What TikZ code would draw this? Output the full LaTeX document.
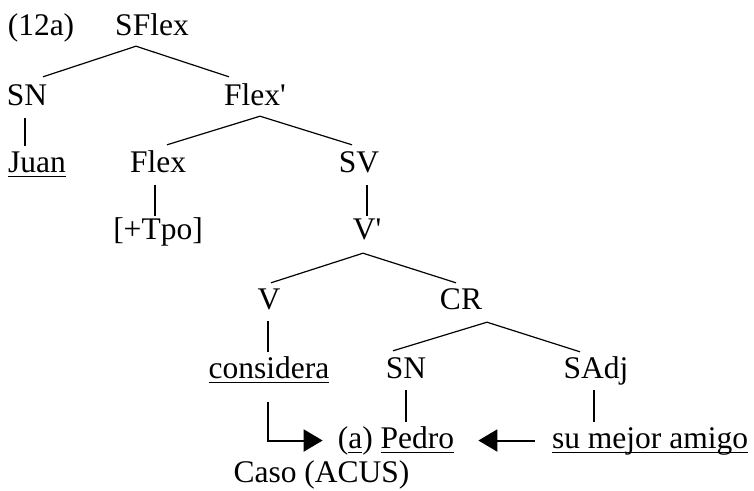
\documentclass[tikz,border=0pt]{standalone}
\usepackage{fontspec}
\setmainfont{Liberation Serif}
\usetikzlibrary{arrows.meta}
\newcommand{\ulword}[1]{\setbox0\hbox{#1}\rlap{\rule[-5pt]{\wd0}{1.5pt}}\box0}

\begin{document}
\begin{tikzpicture}[x=1pt, y=-1pt,
  lbl/.style={inner sep=0pt, anchor=base, text height=22pt, text depth=7pt,
    font=\fontsize{31.5}{36}\selectfont},
  branch/.style={line width=1.2pt},
  stem/.style={line width=2pt},
  link/.style={line width=2pt, -{Triangle[length=19pt,width=22pt]}}]
  \useasboundingbox (0,0) rectangle (754,490);

  % Top
  \node[lbl] (ex) at (41,35) {(12a)};
  \node[lbl] (sflex) at (152,35) {SFlex};

  % Level 1
  \node[lbl] (sn1) at (27,105) {SN};
  \node[lbl] (flexbar) at (255,105) {Flex\textquotesingle};
  \draw[branch] ([shift={(-16,4)}]sflex.south) -- ([shift={(16,-6)}]sn1.north);
  \draw[branch] ([shift={(-16,4)}]sflex.south) -- ([shift={(-26,-6)}]flexbar.north);

  % Level 2
  \node[lbl] (juan) at (37,172) {\ulword{Juan}};
  \node[lbl] (flex) at (158,172) {Flex};
  \node[lbl] (sv) at (359,172) {SV};
  \draw[stem] ([shift={(-2,6)}]sn1.south) -- ([shift={(-12,-4)}]juan.north);
  \draw[branch] ([shift={(5,4)}]flexbar.south) -- ([shift={(9,-5)}]flex.north);
  \draw[branch] ([shift={(5,4)}]flexbar.south) -- ([shift={(-7,-5)}]sv.north);

  % Level 3
  \node[lbl] (tpo) at (158,239) {[+Tpo]};
  \node[lbl] (vbar) at (367,239) {V\textquotesingle};
  \draw[stem] ([shift={(-3,6)}]flex.south) -- ([shift={(-3,-1)}]tpo.north);
  \draw[stem] ([shift={(8,6)}]sv.south) -- ([shift={(0,-1)}]vbar.north);

  % Level 4
  \node[lbl] (v) at (269,309) {V};
  \node[lbl] (cr) at (461,309) {CR};
  \draw[branch] ([shift={(-4,7)}]vbar.south) -- ([shift={(2,-4)}]v.north);
  \draw[branch] ([shift={(-4,7)}]vbar.south) -- ([shift={(-5,-4)}]cr.north);

  % Level 5
  \node[lbl] (considera) at (269,378) {\ulword{considera}};
  \node[lbl] (sn2) at (406,378) {SN};
  \node[lbl] (sadj) at (596,378) {SAdj};
  \draw[stem] ([shift={(-1,5)}]v.south) -- ([shift={(-1,-4)}]considera.north);
  \draw[branch] ([shift={(26,6)}]cr.south) -- ([shift={(-13,-5)}]sn2.north);
  \draw[branch] ([shift={(26,6)}]cr.south) -- ([shift={(-16,-4)}]sadj.north);

  % Level 6
  \node[lbl] (pedro) at (396,448) {(\ulword{a}) \ulword{Pedro}};
  \node[lbl] (amigo) at (650,448) {\ulword{su mejor amigo}};
  \node[lbl] (caso) at (321.5,482) {Caso (ACUS)};
  \draw[stem] ([shift={(0,5)}]sn2.south) -- ([shift={(10,-4)}]pedro.north);
  \draw[stem] ([shift={(-2,5)}]sadj.south) -- ([shift={(-56,-4)}]amigo.north);

  % Case assignment
  \draw[link] ([shift={(-1,17)}]considera.south) |- ([xshift=-15]pedro.west);
  \draw[link] ([xshift=-17]amigo.west) -- ([xshift=24]pedro.east);
\end{tikzpicture}
\end{document}
